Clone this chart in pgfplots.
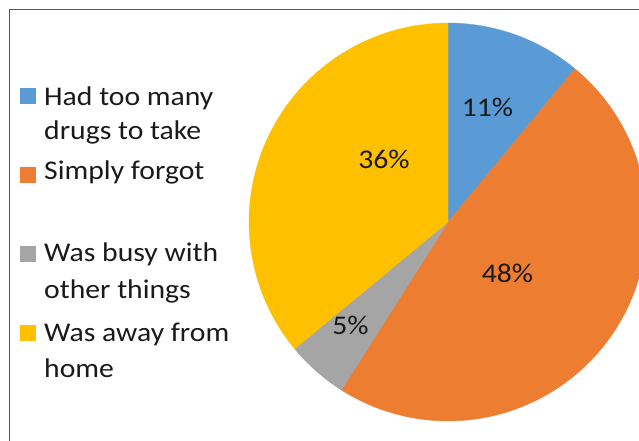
\documentclass[border=0pt]{standalone}
\usepackage{pgfplots}
\pgfplotsset{compat=1.18}
\usepackage{fontspec}
\setmainfont{Carlito}
\definecolor{cBlue}{HTML}{5B9BD5}
\definecolor{cOrange}{HTML}{ED7D31}
\definecolor{cGray}{HTML}{A5A5A5}
\definecolor{cYellow}{HTML}{FFC000}
\definecolor{cText}{HTML}{1A1A1A}
\definecolor{cBorder}{HTML}{555555}
% shares (percent): 11, 48, 5, 36 -- clockwise from 12 o'clock
\pgfmathsetmacro{\aA}{90}
\pgfmathsetmacro{\aB}{\aA-11*3.6}
\pgfmathsetmacro{\aC}{\aB-48*3.6}
\pgfmathsetmacro{\aD}{\aC-5*3.6}
\pgfmathsetmacro{\aE}{\aD-36*3.6}
\begin{document}
\begin{tikzpicture}
\useasboundingbox (0,0) rectangle (639pt,441pt);
\begin{axis}[
  scale only axis, width=639pt, height=441pt,
  xmin=0, xmax=639, ymin=0, ymax=441, y dir=reverse,
  hide axis, clip=true,
]
\addplot[fill=cBlue, draw=cBlue, line width=0.3pt, domain=\aB:\aA, samples=60] ({448+199*cos(x)},{222-199*sin(x)}) -- (axis cs:448,222) -- cycle;
\addplot[fill=cOrange, draw=cOrange, line width=0.3pt, domain=\aC:\aB, samples=120] ({448+199*cos(x)},{222-199*sin(x)}) -- (axis cs:448,222) -- cycle;
\addplot[fill=cGray, draw=cGray, line width=0.3pt, domain=\aD:\aC, samples=30] ({448+199*cos(x)},{222-199*sin(x)}) -- (axis cs:448,222) -- cycle;
\addplot[fill=cYellow, draw=cYellow, line width=0.3pt, domain=\aE:\aD, samples=100] ({448+199*cos(x)},{222-199*sin(x)}) -- (axis cs:448,222) -- cycle;
% frame (left and top edges)
\addplot[cBorder, line width=1.2pt] coordinates {(9.3,441) (9.3,9.8) (639,9.8)};
% legend squares
\addplot[only marks, mark=square*, mark size=7.5pt, mark options={draw=cBlue, fill=cBlue}] coordinates {(27.5,95.5)};
\addplot[only marks, mark=square*, mark size=7.5pt, mark options={draw=cOrange, fill=cOrange}] coordinates {(27.5,175)};
\addplot[only marks, mark=square*, mark size=7.5pt, mark options={draw=cGray, fill=cGray}] coordinates {(27.5,253.5)};
\addplot[only marks, mark=square*, mark size=7.5pt, mark options={draw=cYellow, fill=cYellow}] coordinates {(27.5,333)};
\end{axis}
\begin{scope}[every node/.style={text=cText, font=\fontsize{27}{32}\selectfont, inner sep=0pt, xscale=1.1}]
\node[anchor=base west] at (44pt,441pt-106pt) {Had too many};
\node[anchor=base west] at (44pt,441pt-140pt) {drugs to take};
\node[anchor=base west] at (44pt,441pt-180pt) {Simply forgot};
\node[anchor=base west] at (44pt,441pt-262pt) {Was busy with};
\node[anchor=base west] at (44pt,441pt-299pt) {other things};
\node[anchor=base west] at (44pt,441pt-342pt) {Was away from};
\node[anchor=base west] at (44pt,441pt-378pt) {home};
\node[anchor=base] at (487.5pt,441pt-117pt) {11\%};
\node[anchor=base] at (384pt,441pt-169pt) {36\%};
\node[anchor=base] at (507.5pt,441pt-283pt) {48\%};
\node[anchor=base] at (350.5pt,441pt-335pt) {5\%};
\end{scope}
\end{tikzpicture}
\end{document}
